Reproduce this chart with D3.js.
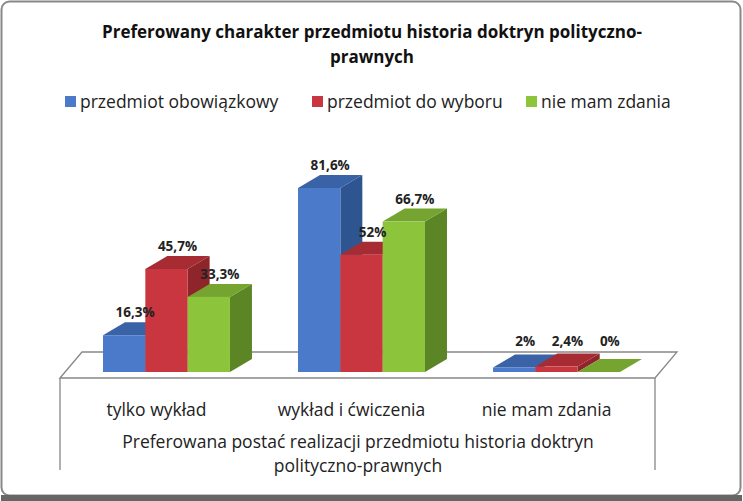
<!DOCTYPE html><html><head><meta charset="utf-8"><script src="https://cdn.jsdelivr.net/npm/d3@7"></script>
<style>body{margin:0;background:#fff}text{font-family:"Open Sans",sans-serif}</style></head><body><svg id="c" width="743" height="501"></svg><script>
const categories=["tylko wykład","wykład i ćwiczenia","nie mam zdania"];
const seriesNames=["przedmiot obowiązkowy","przedmiot do wyboru","nie mam zdania"];
const obow=[16.3,81.6,2];
const wyb=[45.7,52,2.4];
const brak=[33.3,66.7,0];
const labels=[["16,3%","81,6%","2%"],["45,7%","52%","2,4%"],["33,3%","66,7%","0%"]];
const series=[obow,wyb,brak];
const cols=[["#4a7ac9","#3a62a6","#2f5590"],["#c9363f","#a72b33","#8e252b"],["#8cc43c","#75a530","#5c8526"]];
const svg=d3.select("#c");
svg.append("rect").attr("x",1.5).attr("y",1.5).attr("width",739).attr("height",494).attr("rx",8).attr("fill","#fff").attr("stroke","#888").attr("stroke-width",2);
svg.append("rect").attr("x",1).attr("y",495).attr("width",741).attr("height",6).attr("fill","#666");
const t=svg.append("text").attr("text-anchor","middle").attr("font-weight","bold").attr("font-size",17).attr("fill","#111");
t.append("tspan").attr("x",372).attr("y",38).text("Preferowany charakter przedmiotu historia doktryn polityczno-");
t.append("tspan").attr("x",372).attr("y",63).text("prawnych");
const lx=[65,312,526];
seriesNames.forEach((n,i)=>{svg.append("rect").attr("x",lx[i]).attr("y",96).attr("width",11).attr("height",11).attr("fill",cols[i][0]);
svg.append("text").attr("x",lx[i]+15).attr("y",108).attr("font-size",17.5).attr("fill","#222").text(n);});
const dx=22,dy=-13;
const x0=d3.scaleBand().domain(categories).range([103,620]).paddingInner(0.349).paddingOuter(0);
const x1=d3.scaleBand().domain([0,1,2]).range([0,x0.bandwidth()]);
const base=372;
const y=d3.scaleLinear().domain([0,100]).range([base,base-225.5]);
svg.append("path").attr("d","M60,378 L82,352 L677,352 L655,378 Z").attr("fill","#fff").attr("stroke","#888").attr("stroke-width",1.3);
svg.append("path").attr("d","M60,378 L60,470 M655,378 L655,470").attr("stroke","#888").attr("fill","none").attr("stroke-width",1.3);
categories.forEach((c,ci)=>{series.forEach((s,si)=>{
 const xl=x0(c)+x1(si),w=x1.bandwidth(),yt=y(s[ci]);
 const g=svg.append("g");
 g.append("path").attr("d",`M${xl+w},${yt} L${xl+w+dx},${yt+dy} L${xl+w+dx},${base+dy} L${xl+w},${base} Z`).attr("fill",cols[si][2]);
 g.append("path").attr("d",`M${xl},${yt} L${xl+dx},${yt+dy} L${xl+w+dx},${yt+dy} L${xl+w},${yt} Z`).attr("fill",cols[si][1]);
 g.append("rect").attr("x",xl).attr("y",yt).attr("width",w).attr("height",base-yt).attr("fill",cols[si][0]);
});});
categories.forEach((c,ci)=>{series.forEach((s,si)=>{
 const xc=x0(c)+x1(si)+x1.bandwidth()/2+dx/2;
 svg.append("text").attr("x",xc).attr("y",Math.min(y(s[ci])+dy-5,346)).attr("text-anchor","middle").attr("font-size",13.5).attr("font-weight","bold").attr("fill","#222").text(labels[si][ci]);
});});
categories.forEach(c=>svg.append("text").attr("x",x0(c)+x0.bandwidth()/2-10).attr("y",416).attr("text-anchor","middle").attr("font-size",17.5).attr("fill","#222").text(c));
const at=svg.append("text").attr("text-anchor","middle").attr("font-size",17.5).attr("fill","#222");
at.append("tspan").attr("x",358).attr("y",448).text("Preferowana postać realizacji przedmiotu historia doktryn");
at.append("tspan").attr("x",358).attr("y",472).text("polityczno-prawnych");
</script></body></html>
